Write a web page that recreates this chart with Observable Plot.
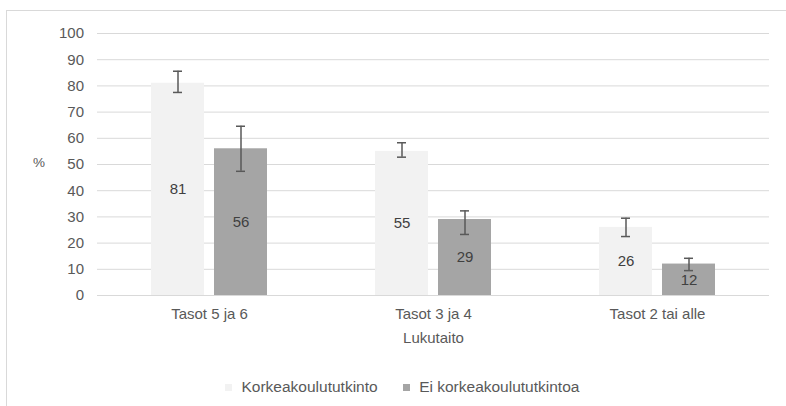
<!DOCTYPE html>
<html><head><meta charset="utf-8">
<script src="https://cdn.jsdelivr.net/npm/d3@7"></script>
<script src="https://cdn.jsdelivr.net/npm/@observablehq/plot@0.6"></script>
<style>
body{margin:0;background:#fff;font-family:"Liberation Sans",Arial,sans-serif;}
#wrap{position:relative;width:786px;height:406px;overflow:hidden;background:#fff;}
#frame{position:absolute;left:6px;top:10px;width:900px;height:500px;border:1px solid #d9d9d9;box-sizing:border-box;}
#chart{position:absolute;left:0;top:0;}
#ylab{position:absolute;left:33px;top:155px;font-size:13.5px;color:#595959;}
#legend{position:absolute;left:225px;top:378px;display:flex;align-items:center;font-size:15.5px;color:#595959;}
.sw{display:inline-flex;align-items:center;margin-right:25px;}
.sw i{display:inline-block;width:7px;height:7px;margin-right:9.5px;}
</style></head><body>
<div id="wrap"><div id="frame"></div><div id="chart"></div><div id="ylab">%</div><div id="legend"></div></div>
<script>
const categories = ["Tasot 5 ja 6", "Tasot 3 ja 4", "Tasot 2 tai alle"];
const series = ["Korkeakoulututkinto", "Ei korkeakoulututkintoa"];
const korkea = [81, 55, 26];
const eiKorkea = [56, 29, 12];
const korkeaLow = [77.5, 52.8, 22.5];
const korkeaHigh = [85.6, 58.3, 29.5];
const eiLow = [47.4, 23.3, 9.5];
const eiHigh = [64.6, 32.3, 14.2];
const yTicks = [0, 10, 20, 30, 40, 50, 60, 70, 80, 90, 100];
const seriesColors = ["#f2f2f2", "#a5a5a5"];
const axisTitle = "Lukutaito";

const rows = categories.flatMap((c, i) => [
  {cat: c, ser: series[0], value: korkea[i], low: korkeaLow[i], high: korkeaHigh[i]},
  {cat: c, ser: series[1], value: eiKorkea[i], low: eiLow[i], high: eiHigh[i]}
]);

const errColor = "#595959";
const plot = Plot.plot({
  width: 786, height: 350,
  marginTop: 33, marginBottom: 55, marginLeft: 96, marginRight: 16,
  style: {fontFamily: "'Liberation Sans', Arial, sans-serif", color: "#595959", background: "transparent", fontSize: "15px"},
  fx: {domain: categories, padding: 0, tickSize: 0, tickPadding: 13, label: axisTitle, labelAnchor: "center", labelOffset: 47},
  x: {domain: series, paddingInner: 0.16, paddingOuter: 0.85, axis: null},
  y: {domain: [0, 100]},
  color: {domain: series, range: seriesColors},
  marks: [
    Plot.ruleY(yTicks, {stroke: "#d9d9d9", strokeWidth: 1}),
    Plot.axisY({ticks: yTicks, tickSize: 0, tickPadding: 13.5, label: null, fontSize: 15}),
    Plot.barY(rows, {fx: "cat", x: "ser", y: "value", fill: "ser"}),
    Plot.ruleX(rows, {fx: "cat", x: "ser", y1: "low", y2: "high", stroke: errColor, strokeWidth: 1.5}),
    Plot.tickY(rows, {fx: "cat", x: "ser", y: "low", stroke: errColor, strokeWidth: 1.5, insetLeft: 22, insetRight: 22}),
    Plot.tickY(rows, {fx: "cat", x: "ser", y: "high", stroke: errColor, strokeWidth: 1.5, insetLeft: 22, insetRight: 22}),
    Plot.text(rows, {fx: "cat", x: "ser", y: d => d.value / 2, text: d => String(d.value), fill: "#404040", fontSize: 15})
  ]
});
document.getElementById("chart").appendChild(plot);

const lg = d3.select("#legend");
series.forEach((s, i) => {
  const sw = lg.append("span").attr("class", "sw");
  sw.append("i").style("background", seriesColors[i]);
  sw.append("span").text(s);
});
</script>
</body></html>
